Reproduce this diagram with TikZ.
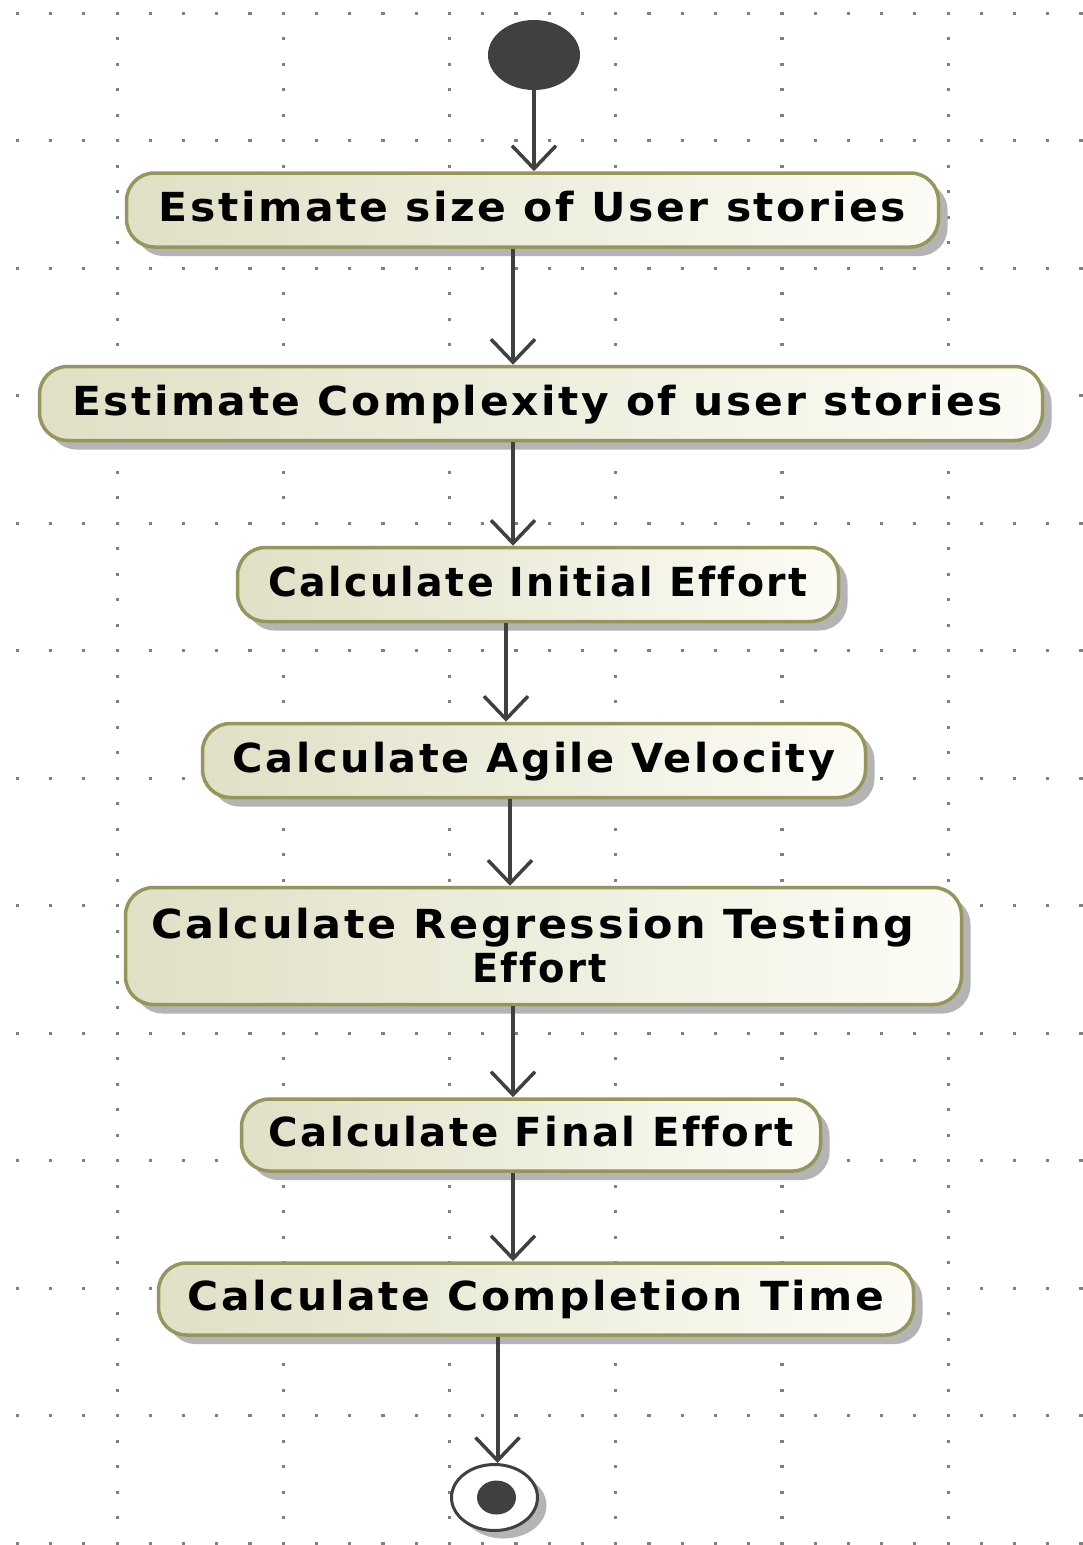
\documentclass[tikz,border=0pt]{standalone}
\usepackage{fontspec}
\usepackage{graphicx}
\usetikzlibrary{arrows.meta,shapes.geometric,shadows}
\newfontfamily\umlfont[LetterSpace=6.0,Ligatures=NoCommon]{DejaVu Sans}

\definecolor{gridgray}{RGB}{128,128,128}
\definecolor{inkgray}{RGB}{64,64,64}
\definecolor{olivebrd}{RGB}{150,150,90}
\definecolor{boxleft}{RGB}{224,224,198}
\definecolor{boxright}{RGB}{252,252,246}
\definecolor{shadowgray}{RGB}{180,180,180}

% stretch a label horizontally to a given width, keeping its height
\newcommand{\fitlabel}[2]{\resizebox{#1pt}{\height}{#2}}

\tikzset{
  action/.style={rounded corners=28pt, draw=olivebrd, line width=3.5pt,
    left color=boxleft, right color=boxright, inner sep=0pt,
    font=\umlfont\bfseries\fontsize{40}{44}\selectfont, text=black,
    drop shadow={shadow xshift=9pt, shadow yshift=-9pt, fill=shadowgray, opacity=1}},
  oneline/.style={action, text height=29pt, text depth=6pt},
  flow/.style={draw=inkgray, line width=4pt,
    -{Straight Barb[length=23pt,width=44pt,line width=3.5pt]}},
  griddot/.style={fill=gridgray},
}

\begin{document}
\begin{tikzpicture}[x=1pt,y=-1pt]
  \useasboundingbox (0,0) rectangle (1083,1545);
  \fill[white] (0,0) rectangle (1083,1545);

  % dotted drawing grid
  \foreach \k in {0,...,12}
    \foreach \j in {0,...,32}
      \fill[griddot] ({17.3+33.24*\j-1.5},{13+127.5*\k-1.5}) rectangle ++(3.2,3.2);
  \foreach \m in {0,...,5}
    \foreach \i in {0,...,60}
      \fill[griddot] ({117+166.2*\m-1.5},{13+25.5*\i-1.5}) rectangle ++(3.2,3.2);

  % initial node
  \node[ellipse, fill=inkgray, minimum width=92pt, minimum height=70pt, inner sep=0pt] (start) at (534,55) {};

  % actions
  \node[oneline, minimum width=812pt, minimum height=74pt] (b1) at (532.5,210)
    {\fitlabel{747}{Estimate size of User stories}};
  \node[oneline, minimum width=1003pt, minimum height=74pt] (b2) at (541,403.5)
    {\makebox[938pt][l]{\fitlabel{931}{Estimate Complexity of user stories}}};
  \node[oneline, minimum width=601pt, minimum height=74pt] (b3) at (538,584.5)
    {\fitlabel{539}{Calculate Initial Effort}};
  \node[oneline, minimum width=663pt, minimum height=74pt] (b4) at (534,760.5)
    {\fitlabel{602}{Calculate Agile Velocity}};
  \node[action, align=center, minimum width=836pt, minimum height=117pt] (b5) at (543.5,946)
    {\makebox[785pt][l]{\fitlabel{763}{Calculate Regression Testing}}\\
     \makebox[143pt][l]{\fitlabel{135}{Effort}}};
  \node[oneline, minimum width=579pt, minimum height=72pt] (b6) at (531,1135)
    {\fitlabel{525}{Calculate Final Effort}};
  \node[oneline, minimum width=755pt, minimum height=72pt] (b7) at (536,1299)
    {\fitlabel{696}{Calculate Completion Time}};

  % final node
  \node[ellipse, draw=inkgray, line width=3pt, fill=white, minimum width=86pt, minimum height=66pt,
    inner sep=0pt, drop shadow={shadow xshift=9pt, shadow yshift=-8pt, fill=shadowgray, opacity=1}]
    (finish) at (494.5,1497.5) {};
  \node[ellipse, fill=inkgray, minimum width=39pt, minimum height=34pt, inner sep=0pt,
    xshift=2pt] (finishdot) at (finish) {};

  % connector lanes
  \coordinate (lane12) at (513,0);
  \coordinate (lane23) at (513,0);
  \coordinate (lane34) at (506,0);
  \coordinate (lane45) at (510,0);
  \coordinate (lane56) at (513,0);
  \coordinate (lane67) at (513,0);
  \coordinate (lane7f) at (497.5,0);

  % control flow
  \draw[flow] (start) -- (start |- b1.north);
  \draw[flow] (b1.south -| lane12) -- (b2.north -| lane12);
  \draw[flow] (b2.south -| lane23) -- (b3.north -| lane23);
  \draw[flow] (b3.south -| lane34) -- (b4.north -| lane34);
  \draw[flow] (b4.south -| lane45) -- (b5.north -| lane45);
  \draw[flow] (b5.south -| lane56) -- (b6.north -| lane56);
  \draw[flow] (b6.south -| lane67) -- (b7.north -| lane67);
  \draw[flow] (b7.south -| lane7f) -- (finish.north -| lane7f);
\end{tikzpicture}
\end{document}
